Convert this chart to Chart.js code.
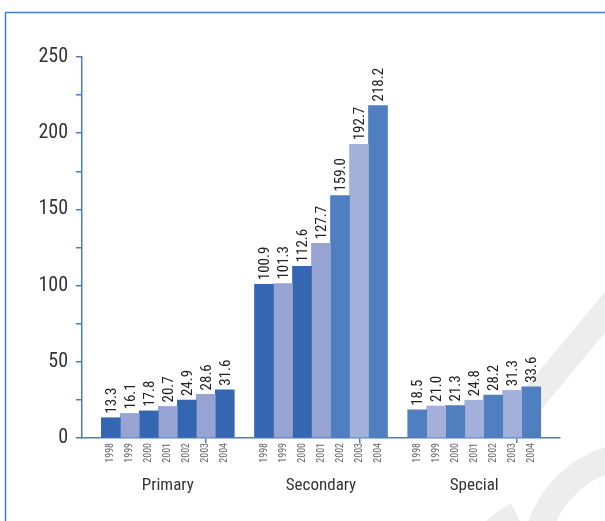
<!DOCTYPE html>
<html>
<head>
<meta charset="utf-8">
<script src="https://cdn.jsdelivr.net/npm/chart.js@4/dist/chart.umd.min.js"></script>
<style>
  html, body { margin: 0; padding: 0; background: #fff; }
  #wrap { width: 605px; height: 521px; position: relative; }
</style>
</head>
<body>
<div id="wrap"><canvas id="chart"></canvas></div>
<script>
const FONT = '"Roboto Condensed", "DejaVu Sans", sans-serif';
const AXIS_COLOR = "#4a7cc4";

const groups = ["Primary", "Secondary", "Special"];
const years = ["1998", "1999", "2000", "2001", "2002", "2003", "2004"];
const primary = [13.3, 16.1, 17.8, 20.7, 24.9, 28.6, 31.6];
const secondary = [100.9, 101.3, 112.6, 127.7, 159.0, 192.7, 218.2];
const special = [18.5, 21.0, 21.3, 24.8, 28.2, 31.3, 33.6];
const yTicks = [0, 50, 100, 150, 200, 250];

const DARK = "#3566b1";
const LIGHT = "#96a3d3";
const MID = "#4f7ec1";
const LIGHT2 = "#a3b0da";
const primaryColors = [DARK, LIGHT, DARK, LIGHT, DARK, LIGHT, DARK];
const secondaryColors = [DARK, LIGHT, DARK, LIGHT, MID, LIGHT2, MID];
const specialColors = [MID, LIGHT2, MID, LIGHT2, MID, LIGHT2, MID];

// x is a linear index axis so the group slots can be a bit narrower than the axis line
const X_MIN = -0.56;
const X_MAX = 2.56;

const datasets = years.map((y, i) => ({
  label: y,
  data: [primary[i], secondary[i], special[i]].map((v, g) => ({ x: g, y: v })),
  backgroundColor: [primaryColors[i], secondaryColors[i], specialColors[i]],
  borderWidth: 0,
  barThickness: 19,
}));

const decorations = {
  id: "decorations",
  beforeDraw(chart) {
    const ctx = chart.ctx;
    ctx.save();
    ctx.strokeStyle = AXIS_COLOR;
    ctx.lineWidth = 1.5;
    ctx.beginPath();
    ctx.moveTo(5.5, 521);
    ctx.lineTo(5.5, 12.5);
    ctx.lineTo(605, 12.5);
    ctx.stroke();
    // faint watermark
    ctx.strokeStyle = "rgba(215,215,215,0.45)";
    ctx.lineWidth = 26;
    ctx.beginPath();
    ctx.moveTo(615, 300);
    ctx.lineTo(528, 405);
    ctx.stroke();
    ctx.beginPath();
    ctx.arc(640, 560, 105, Math.PI * 1.05, Math.PI * 1.45);
    ctx.stroke();
    ctx.beginPath();
    ctx.arc(560, 600, 95, Math.PI * 1.1, Math.PI * 1.35);
    ctx.stroke();
    ctx.restore();
  },
  afterDatasetsDraw(chart) {
    const ctx = chart.ctx;
    const base = chart.scales.y.getPixelForValue(0);
    ctx.save();
    chart.data.datasets.forEach((ds, di) => {
      const meta = chart.getDatasetMeta(di);
      meta.data.forEach((bar, j) => {
        ctx.save();
        ctx.translate(bar.x + 1, bar.y - 4);
        ctx.rotate(-Math.PI / 2);
        ctx.font = "15px " + FONT;
        ctx.fillStyle = "#222";
        ctx.textAlign = "left";
        ctx.textBaseline = "middle";
        ctx.fillText(ds.data[j].y.toFixed(1), 0, 0);
        ctx.restore();

        ctx.save();
        ctx.translate(bar.x, base + 5);
        ctx.rotate(-Math.PI / 2);
        ctx.font = "10px " + FONT;
        ctx.fillStyle = "#666";
        ctx.textAlign = "right";
        ctx.textBaseline = "middle";
        ctx.fillText(ds.label, 0, 0);
        ctx.restore();
      });
    });
    ctx.restore();
  },
};

new Chart(document.getElementById("chart"), {
  type: "bar",
  data: { datasets },
  plugins: [decorations],
  options: {
    responsive: true,
    maintainAspectRatio: false,
    animation: false,
    layout: { padding: { top: 57, right: 45, left: 0, bottom: 0 } },
    plugins: { legend: { display: false }, tooltip: { enabled: false } },
    scales: {
      x: {
        type: "linear",
        offset: false,
        min: X_MIN,
        max: X_MAX,
        afterBuildTicks(scale) {
          scale.ticks = [0, 0.5, 1, 1.5, 2, X_MAX].map((v) => ({ value: v }));
        },
        grid: {
          drawOnChartArea: false,
          tickLength: 5,
          lineWidth: 1.5,
          tickColor: (c) => (c.tick && Number.isInteger(c.tick.value) ? "rgba(0,0,0,0)" : AXIS_COLOR),
        },
        border: { color: AXIS_COLOR, width: 1.5 },
        ticks: {
          autoSkip: false,
          maxRotation: 0,
          color: "#333",
          font: { family: FONT, size: 17 },
          padding: 33,
          callback: (v) => (Number.isInteger(v) ? groups[v] : ""),
        },
        afterFit(scale) { scale.height = 83; },
      },
      y: {
        min: 0,
        max: 250,
        grid: { drawOnChartArea: false, color: AXIS_COLOR, tickLength: 6, lineWidth: 1.5 },
        border: { color: AXIS_COLOR, width: 1.5 },
        ticks: {
          stepSize: 25,
          color: "#333",
          font: { family: FONT, size: 20 },
          padding: 8,
          callback: (v) => (yTicks.includes(v) ? String(v) : ""),
        },
        afterFit(scale) { scale.width = 82; },
      },
    },
  },
});
</script>
</body>
</html>
